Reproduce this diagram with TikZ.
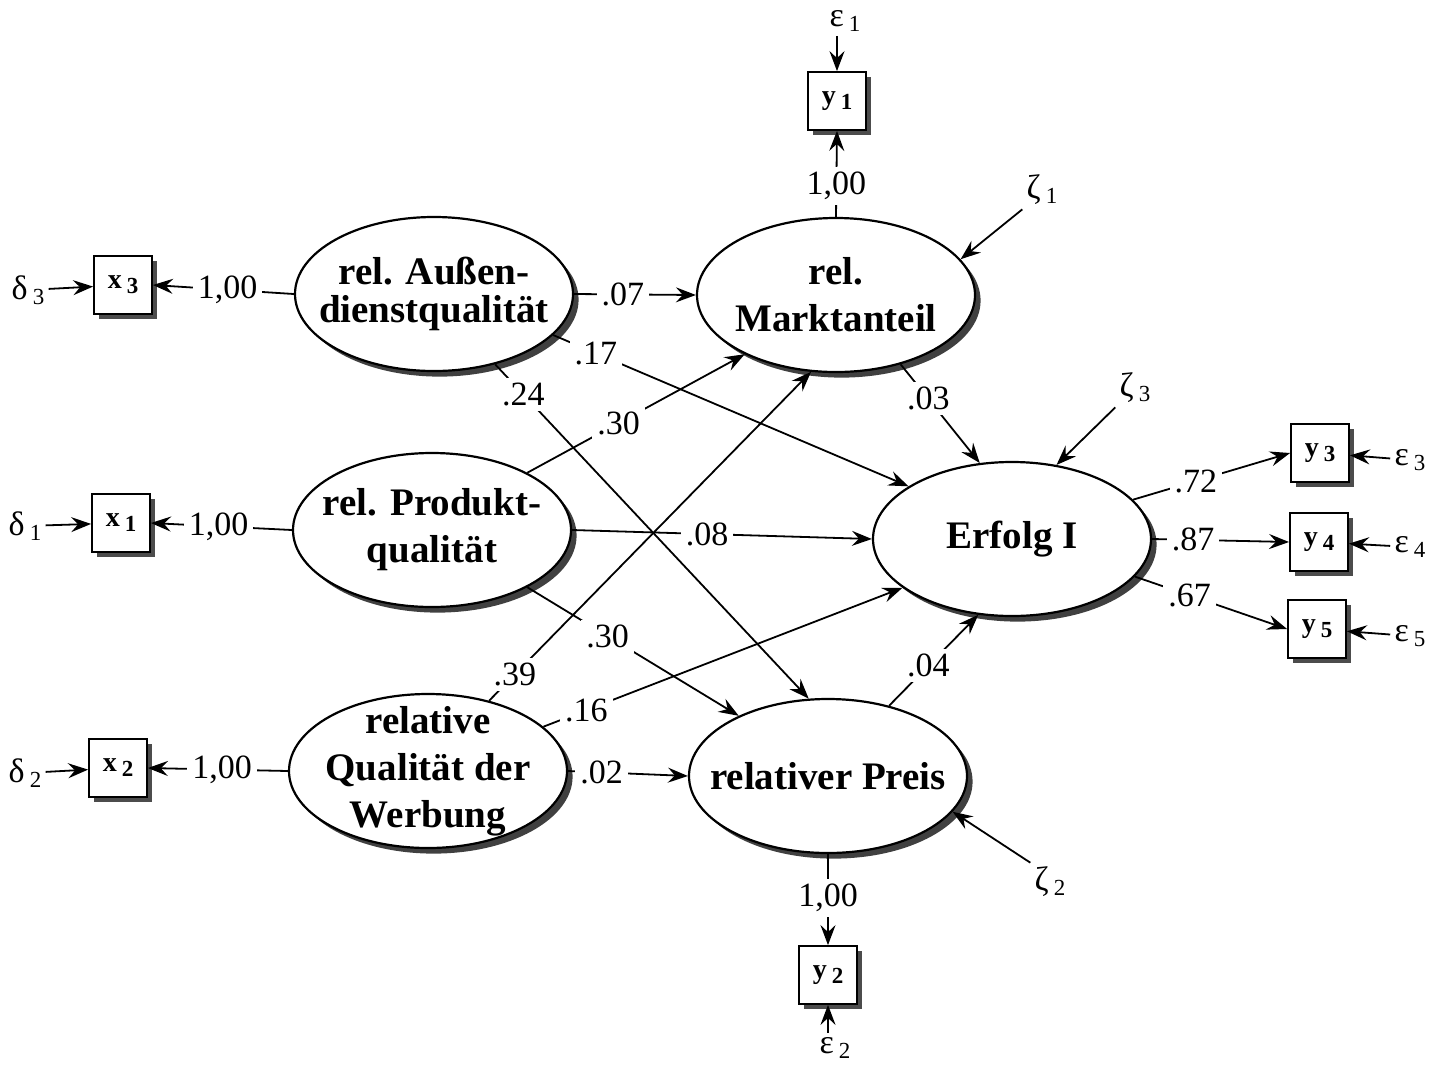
\documentclass[tikz,border=0pt]{standalone}
\usepackage{fontspec}
\setmainfont{Liberation Serif}
\usetikzlibrary{arrows.meta,shapes.geometric,shadows,positioning}

\newcommand{\lowidx}[1]{\kern2.5pt\raisebox{-0.55ex}{\fontsize{11.5}{11.5}\selectfont #1}}
\newcommand{\errsym}[2]{{\fontsize{17}{17}\selectfont #1}\lowidx{#2}}
\newcommand{\indsym}[2]{{\fontsize{14}{14}\selectfont\bfseries #1}\lowidx{\bfseries #2}}

\begin{document}
\begin{tikzpicture}[x=0.5pt,y=-0.5pt,
    latent/.style={ellipse, draw, line width=1.1pt, fill=white, inner sep=0pt,
      minimum width=139pt, minimum height=77pt,
      general shadow={fill=black!75, shadow xshift=2.8pt, shadow yshift=-2.8pt}},
    lattext/.style={font=\fontsize{19.5}{23.5}\selectfont\bfseries, align=center, inner sep=0pt},
    indicator/.style={draw, line width=0.9pt, fill=white, minimum width=29pt,
      minimum height=29pt, inner sep=0pt,
      general shadow={fill=black!70, shadow xshift=2.5pt, shadow yshift=-2.5pt}},
    errlab/.style={inner sep=2pt},
    conn/.style={line width=0.9pt, -{Stealth[length=10pt,width=7.5pt,inset=3.5pt]}},
    coef/.style={fill=white, inner sep=2.5pt, font=\fontsize{17}{17}\selectfont}]
  \useasboundingbox (0,0) rectangle (1442,1067);

  % latent variables
  \node[latent, label={[lattext, font=\fontsize{19.5}{19}\selectfont\bfseries]center:{rel. Außen-\\dienstqualität}}] (aussen) at (434,294) {};
  \node[latent, label={[lattext]center:{rel. Produkt-\\qualität}}] (produkt) at (432,530) {};
  \node[latent, label={[lattext]center:{relative\\Qualität der\\Werbung}}] (werbung) at (428,771) {};
  \node[latent, label={[lattext]center:{rel.\\Marktanteil}}] (markt) at (836,295) {};
  \node[latent, label={[lattext]center:{relativer Preis}}] (preis) at (828,776) {};
  \node[latent, label={[lattext]center:{Erfolg I}}] (erfolg) at (1012,539) {};

  % indicators
  \node[indicator] (x3) at (123,285) {\indsym{x}{3}};
  \node[indicator] (x1) at (121,523) {\indsym{x}{1}};
  \node[indicator] (x2) at (118,768) {\indsym{x}{2}};
  \node[indicator] (y1) at (837,101) {\indsym{y}{1}};
  \node[indicator] (y2) at (828,975) {\indsym{y}{2}};
  \node[indicator] (y3) at (1320,453) {\indsym{y}{3}};
  \node[indicator] (y4) at (1319,542) {\indsym{y}{4}};
  \node[indicator] (y5) at (1317,629) {\indsym{y}{5}};

  % error terms
  \node[errlab] (d3) at (28,290) {\errsym{δ}{3}};
  \node[errlab] (d1) at (25,526) {\errsym{δ}{1}};
  \node[errlab] (d2) at (25,773) {\errsym{δ}{2}};
  \node[errlab] (e1) at (845,21) {\errsym{ε}{1}};
  \node[errlab] (e2) at (835,1048) {\errsym{ε}{2}};
  \node[errlab] (e3) at (1410,460) {\errsym{ε}{3}};
  \node[errlab] (e4) at (1410,547) {\errsym{ε}{4}};
  \node[errlab] (e5) at (1410,636) {\errsym{ε}{5}};
  \node[errlab] (z1) at (1042,190) {\errsym{ζ}{1}};
  \node[errlab] (z2) at (1050,882) {\errsym{ζ}{2}};
  \node[errlab] (z3) at (1135,388) {\errsym{ζ}{3}};

  \draw[conn] (d3) -- (x3);
  \draw[conn] (d1) -- (x1);
  \draw[conn] (d2) -- (x2);
  \draw[conn] (e1.south -| y1.north) -- (y1.north);
  \draw[conn] (e2.north -| y2.south) -- (y2.south);
  \draw[conn] (e3) -- (y3);
  \draw[conn] (e4) -- (y4);
  \draw[conn] (e5) -- (y5);
  \draw[conn] (z1.south west) -- (markt.16);
  \draw[conn] (z2.north west) -- (preis.-16);
  \draw[conn] (z3.south west) -- (erfolg.59);

  % measurement paths
  \draw[conn] (aussen.west) -- node[coef,pos=0.47]{1,00} (x3.east);
  \draw[conn] (produkt.west) -- node[coef,pos=0.52]{1,00} (x1.east);
  \draw[conn] (werbung.west) -- node[coef,pos=0.47]{1,00} (x2.east);
  \draw[conn] (markt.north) -- node[coef,pos=0.36]{1,00} (y1.south);
  \draw[conn] (preis.south) -- node[coef,pos=0.48]{1,00} (y2.north);
  \draw[conn] (erfolg.18) -- node[coef,pos=0.4]{.72} (y3.west);
  \draw[conn] (erfolg.east) -- node[coef,pos=0.3]{.87} (y4.west);
  \draw[conn] (erfolg.-17) -- node[coef,pos=0.36]{.67} (y5.west);

  % structural paths
  \draw[conn] (aussen.east) -- node[coef,pos=0.4]{.07} (markt.west);
  \draw[conn] (aussen.-19) -- node[coef,pos=0.12]{.17} (erfolg.153);
  \draw[conn] (aussen.-49) -- node[coef,pos=0.09]{.24} (preis.104);
  \draw[conn] (produkt.31) -- node[coef,pos=0.42]{.30} (markt.213);
  \draw[conn] (produkt.east) -- node[coef,pos=0.45]{.08} (erfolg.west);
  \draw[conn] (produkt.-31) -- node[coef,pos=0.38]{.30} (preis.146);
  \draw[conn] (werbung.49) -- node[coef,pos=0.08]{.39} (markt.252);
  \draw[conn] (werbung.21) -- node[coef,pos=0.12]{.16} (erfolg.204);
  \draw[conn] (werbung.east) -- node[coef,pos=0.28]{.02} (preis.west);
  \draw[conn] (markt.-47) -- node[coef,pos=0.35]{.03} (erfolg.113);
  \draw[conn] (preis.49) -- node[coef,pos=0.44]{.04} (erfolg.246);
\end{tikzpicture}
\end{document}
